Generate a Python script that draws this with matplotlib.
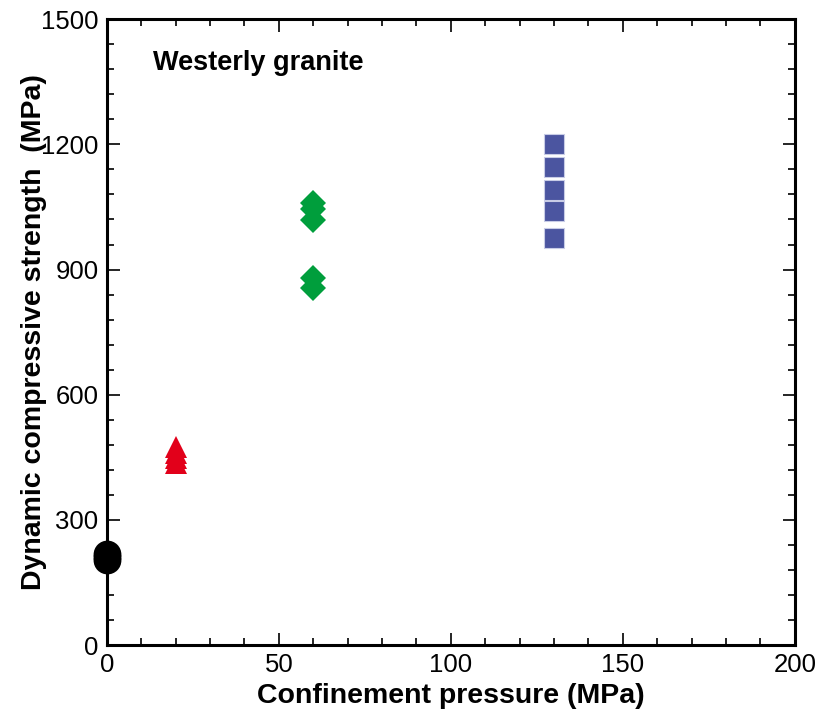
import matplotlib
matplotlib.use("Agg")
import matplotlib.pyplot as plt
from matplotlib.ticker import MultipleLocator

plt.rcParams['font.family'] = ['Liberation Sans', 'DejaVu Sans']

# Dynamic compressive strength (MPa) at each confinement pressure (MPa)
p0 = [0, 0, 0]
s0 = [204, 211, 218]
p20 = [20, 20, 20, 20]
s20 = [436, 448, 460, 474]
p60 = [60, 60, 60, 60, 60]
s60 = [855, 880, 1018, 1045, 1060]
p130 = [130, 130, 130, 130, 130]
s130 = [975, 1040, 1091, 1146, 1202]

fig = plt.figure(figsize=(8.16, 7.12), dpi=100)
ax = fig.add_axes([0.131, 0.094, 0.843, 0.879])

ax.plot(p0, s0, 'o', color='black', markersize=20, markeredgewidth=0, clip_on=False, zorder=5)
ax.plot(p20, s20, '^', color='#E2001A', markersize=16.5, markeredgewidth=0, zorder=5)
ax.plot(p60, s60, 'D', color='#009E3C', markersize=13.5, markeredgewidth=0, zorder=5)
ax.plot(p130, s130, 's', color='#4B55A0', markersize=14.5, markeredgecolor='#C8CCE6',
        markeredgewidth=0.8, zorder=5)

ax.set_xlim(0, 200)
ax.set_ylim(0, 1500)
ax.xaxis.set_major_locator(MultipleLocator(50))
ax.xaxis.set_minor_locator(MultipleLocator(10))
ax.yaxis.set_major_locator(MultipleLocator(300))
ax.yaxis.set_minor_locator(MultipleLocator(60))

for s in ax.spines.values():
    s.set_linewidth(2.2)
ax.tick_params(which='both', direction='in', top=True, right=True, width=1.2,
               labelsize=18.5, pad=6)
ax.tick_params(which='major', length=9)
ax.tick_params(which='minor', length=5)

ax.set_xlabel('Confinement pressure (MPa)', fontsize=20.5, fontweight='bold', labelpad=4)
ax.set_ylabel('Dynamic compressive strength  (MPa)', fontsize=20.5, fontweight='bold', labelpad=-4)

ax.text(13.4, 1395, 'Westerly granite', fontsize=19.5, fontweight='bold', va='center', ha='left')

fig.savefig('out.png', dpi=100)
